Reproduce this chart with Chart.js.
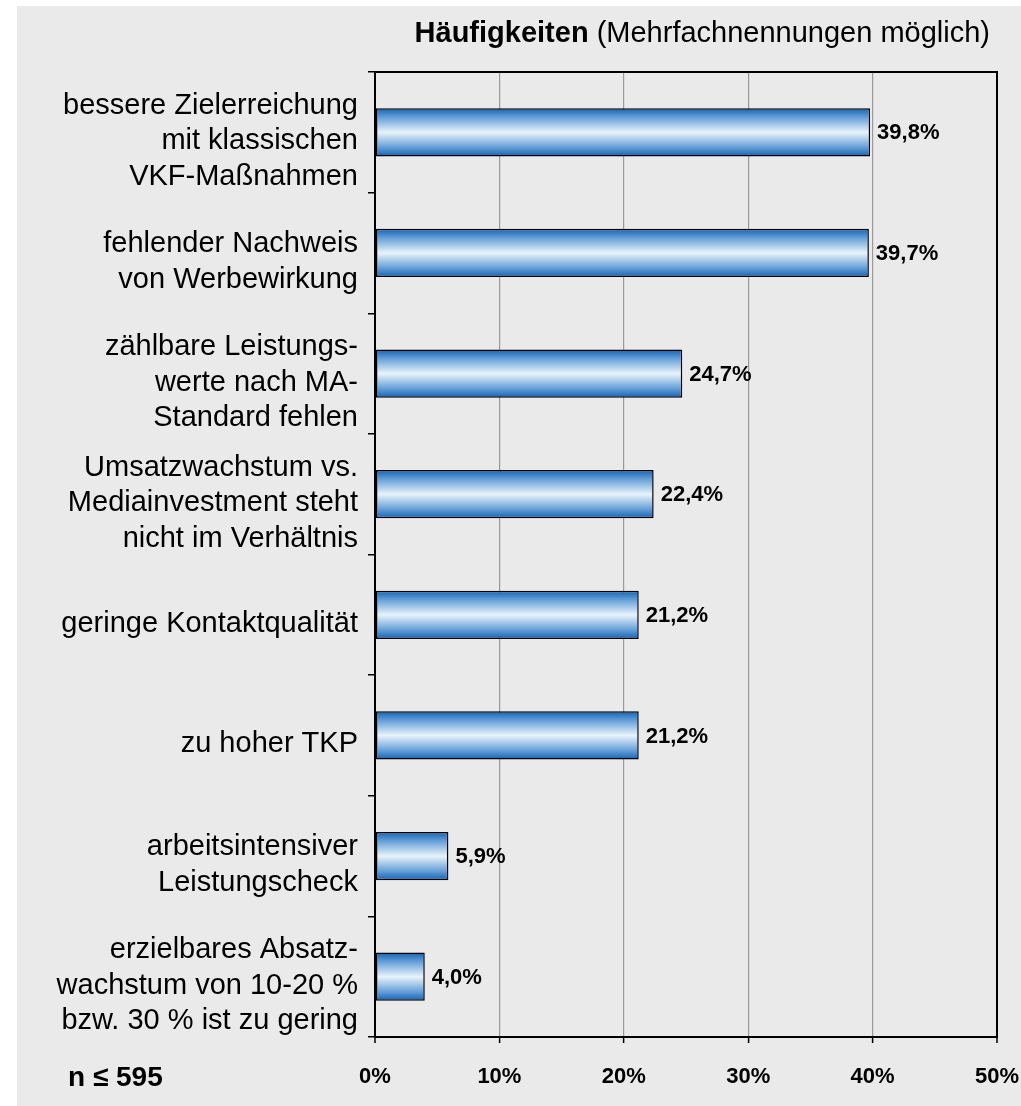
<!DOCTYPE html>
<html>
<head>
<meta charset="utf-8">
<script src="https://cdn.jsdelivr.net/npm/chart.js@4"></script>
<style>
  html, body { margin: 0; padding: 0; background: #ffffff; }
  canvas { display: block; }
</style>
</head>
<body>
<canvas id="c" width="1021" height="1106" style="width:1021px;height:1106px"></canvas>
<script>
const categories = [
  ["bessere Zielerreichung", "mit klassischen", "VKF-Maßnahmen"],
  ["fehlender Nachweis", "von Werbewirkung"],
  ["zählbare Leistungs-", "werte nach MA-", "Standard fehlen"],
  ["Umsatzwachstum vs.", "Mediainvestment steht", "nicht im Verhältnis"],
  "geringe Kontaktqualität",
  "zu hoher TKP",
  ["arbeitsintensiver", "Leistungscheck"],
  ["erzielbares Absatz-", "wachstum von 10-20 %", "bzw. 30 % ist zu gering"]
];
const values = [39.8, 39.7, 24.7, 22.4, 21.2, 21.2, 5.9, 4.0];
const axisMin = 0;
const axisMax = 50;
const axisStep = 10;
const titleBold = "Häufigkeiten";
const titleNormal = " (Mehrfachnennungen möglich)";
const sampleNote = "n ≤ 595";

const FONT = "'Liberation Sans', Arial, Helvetica, sans-serif";
const fmt = v => v.toFixed(1).replace('.', ',') + '%';

const bgPlugin = {
  id: 'bg',
  beforeDraw(chart) {
    const c = chart.ctx;
    c.save();
    c.fillStyle = '#eaeaea';
    c.fillRect(17, 6, chart.width - 17, chart.height - 6);
    c.restore();
  }
};

const labelPlugin = {
  id: 'valueLabels',
  afterDatasetsDraw(chart) {
    const c = chart.ctx;
    const meta = chart.getDatasetMeta(0);
    c.save();
    c.font = "bold 22px " + FONT;
    c.fillStyle = '#000';
    c.textAlign = 'left';
    c.textBaseline = 'middle';
    meta.data.forEach((bar, i) => {
      c.fillText(fmt(values[i]), bar.x + 7, bar.y + 1);
    });
    c.restore();
  },
  afterDraw(chart) {
    const c = chart.ctx;
    const a = chart.chartArea;
    c.save();
    c.strokeStyle = '#000';
    c.lineWidth = 2;
    c.beginPath();
    c.moveTo(a.left, a.top);
    c.lineTo(a.right + 1, a.top);
    c.stroke();
    c.textBaseline = 'alphabetic';
    c.fillStyle = '#000';
    c.font = "bold 29px " + FONT;
    const wb = c.measureText(titleBold).width;
    c.font = "29px " + FONT;
    const wn = c.measureText(titleNormal).width;
    const x0 = 990 - wb - wn;
    c.font = "bold 29px " + FONT;
    c.fillText(titleBold, x0, 42);
    c.font = "29px " + FONT;
    c.fillText(titleNormal, x0 + wb, 42);
    c.font = "bold 28px " + FONT;
    c.textBaseline = 'middle';
    c.fillText(sampleNote, 68, 1078);
    c.restore();
  }
};

new Chart(document.getElementById('c'), {
  type: 'bar',
  data: {
    labels: categories,
    datasets: [{
      data: values,
      borderColor: '#000',
      borderWidth: 1.5,
      borderSkipped: false,
      categoryPercentage: 1.0,
      barPercentage: 0.4,
      backgroundColor: (ctx) => {
        const chart = ctx.chart;
        const ys = chart.scales && chart.scales.y;
        if (!ys || ctx.dataIndex === undefined || !chart.chartArea) return '#7aaee0';
        const cy = ys.getPixelForValue(ctx.dataIndex);
        const h = (ys.height / categories.length) * 0.4;
        const g = chart.ctx.createLinearGradient(0, cy - h / 2, 0, cy + h / 2);
        g.addColorStop(0, '#1262b4');
        g.addColorStop(0.2, '#6aa2d9');
        g.addColorStop(0.5, '#e8f3fb');
        g.addColorStop(0.8, '#6aa2d9');
        g.addColorStop(1, '#1262b4');
        return g;
      }
    }]
  },
  options: {
    indexAxis: 'y',
    responsive: false,
    devicePixelRatio: 1,
    animation: false,
    layout: { padding: { left: 0, right: 24, top: 72, bottom: 0 } },
    plugins: {
      legend: { display: false },
      tooltip: { enabled: false },
      title: { display: false }
    },
    scales: {
      x: {
        type: 'linear',
        min: axisMin,
        max: axisMax,
        afterFit(scale) {
          scale.height = 69;
          scale.paddingLeft = 0;
          scale.paddingRight = 0;
        },
        ticks: {
          stepSize: axisStep,
          padding: 21,
          color: '#000',
          font: { family: FONT, size: 22, weight: 'bold' },
          callback: v => v + '%'
        },
        grid: {
          color: (ctx) => (ctx.index === 0 || ctx.index === 5) ? '#000' : '#999999',
          lineWidth: (ctx) => (ctx.index === 0 || ctx.index === 5) ? 2 : 1.2,
          tickColor: '#000',
          tickLength: 6,
          tickWidth: 1.5
        },
        border: { display: true, color: '#000', width: 2 }
      },
      y: {
        type: 'category',
        afterFit(scale) {
          scale.width = 375;
          scale.paddingTop = 0;
          scale.paddingBottom = 0;
        },
        ticks: {
          color: '#000',
          padding: 10,
          labelOffset: 9,
          font: { family: FONT, size: 29, lineHeight: 1.23 }
        },
        grid: {
          offset: true,
          drawOnChartArea: false,
          drawTicks: true,
          tickLength: 7,
          color: '#000',
          tickColor: '#000',
          lineWidth: 1.5
        },
        border: { display: true, color: '#000', width: 2 }
      }
    }
  },
  plugins: [bgPlugin, labelPlugin]
});
</script>
</body>
</html>
